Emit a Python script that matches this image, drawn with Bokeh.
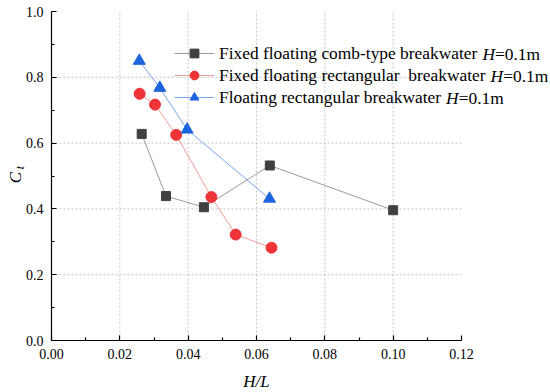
import math
from bokeh.plotting import figure
from bokeh.models import (FixedTicker, Legend, LegendItem, Label, Range1d,
                          LinearAxis)
from bokeh.embed import file_html
from bokeh.resources import INLINE

# ---- data ----
comb_x = [0.0264, 0.0335, 0.0446, 0.0639, 0.1000]
comb_y = [0.628, 0.439, 0.405, 0.532, 0.396]

fixrect_x = [0.0258, 0.0303, 0.0365, 0.0468, 0.0539, 0.0644]
fixrect_y = [0.750, 0.717, 0.625, 0.436, 0.322, 0.282]

floatrect_x = [0.0257, 0.0317, 0.0397, 0.0638]
floatrect_y = [0.850, 0.768, 0.641, 0.431]

x_ticks = [0.00, 0.02, 0.04, 0.06, 0.08, 0.10, 0.12]
x_tick_labels = ["0.00", "0.02", "0.04", "0.06", "0.08", "0.10", "0.12"]
x_minor = [0.01, 0.03, 0.05, 0.07, 0.09, 0.11]
y_ticks = [0.0, 0.2, 0.4, 0.6, 0.8, 1.0]
y_tick_labels = ["0.0", "0.2", "0.4", "0.6", "0.8", "1.0"]
y_minor = [0.1, 0.3, 0.5, 0.7, 0.9]

legend_main = ["Fixed floating comb-type breakwater",
               "Fixed floating rectangular  breakwater",
               "Floating rectangular breakwater"]
legend_var = "H"
legend_rest = "=0.1m"

FONT = "Liberation Serif"

# ---- layout: the frame covers the whole figure; axes sit at fixed spots ----
W_FIG, H_FIG = 548, 390
OFF = 1                  # page offset of the figure
XPX0, XPX1 = 52 - OFF, 462 - OFF                # frame px of x = 0 / 0.12
YPX0, YPX1 = H_FIG - (341 - OFF), H_FIG - (12 - OFF)  # px from bottom of y = 0 / 1
x0d, x1d = x_ticks[0], x_ticks[-1]
y0d, y1d = y_ticks[0], y_ticks[-1]
sx = (x1d - x0d) / (XPX1 - XPX0)
sy = (y1d - y0d) / (YPX1 - YPX0)

p = figure(width=W_FIG, height=H_FIG,
           min_border_left=0, min_border_right=0,
           min_border_top=0, min_border_bottom=0,
           x_range=Range1d(x0d - XPX0 * sx, x0d + (W_FIG - XPX0) * sx),
           y_range=Range1d(y0d - YPX0 * sy, y0d + (H_FIG - YPX0) * sy),
           x_axis_location=None, y_axis_location=None,
           output_backend="svg", toolbar_location=None)
p.outline_line_color = None
p.background_fill_color = "white"
p.border_fill_color = "white"
p.xgrid.visible = False
p.ygrid.visible = False

xaxis = LinearAxis(fixed_location=y0d, bounds=(x0d, x1d),
                   ticker=FixedTicker(ticks=x_ticks, minor_ticks=x_minor))
yaxis = LinearAxis(fixed_location=x0d, bounds=(y0d, y1d),
                   ticker=FixedTicker(ticks=y_ticks, minor_ticks=y_minor))
xaxis.major_label_overrides = dict(zip(x_ticks, x_tick_labels))
yaxis.major_label_overrides = dict(zip(y_ticks, y_tick_labels))
for ax in (xaxis, yaxis):
    ax.axis_line_color = "black"
    ax.axis_line_width = 1.2
    ax.major_tick_line_color = "black"
    ax.minor_tick_line_color = "black"
    ax.major_tick_line_width = 1.2
    ax.minor_tick_line_width = 1.2
    ax.major_tick_in = 5
    ax.major_tick_out = 0
    ax.minor_tick_in = 3
    ax.minor_tick_out = 0
    ax.major_label_text_font = FONT
    ax.major_label_text_font_size = "14px"
    ax.major_label_text_color = "black"
    ax.major_label_standoff = 8
xaxis.axis_label = "H/L"
xaxis.axis_label_text_font = FONT
xaxis.axis_label_text_font_style = "italic"
xaxis.axis_label_text_font_size = "17px"
xaxis.axis_label_text_color = "black"
xaxis.axis_label_standoff = 10

# dashed grid at the interior major ticks, limited to the axes box
gx = x_ticks[1:-1]
gy = y_ticks[1:-1]
p.segment(x0=gx, x1=gx, y0=[y0d] * len(gx), y1=[y1d] * len(gx),
          line_color="#c4c4c4", line_dash="2 2", line_width=1)
p.segment(x0=[x0d] * len(gy), x1=[x1d] * len(gy), y0=gy, y1=gy,
          line_color="#c4c4c4", line_dash="2 2", line_width=1)

p.add_layout(xaxis, "below")
p.add_layout(yaxis, "left")

# series
l1 = p.line(comb_x, comb_y, line_color="#9a9a9a", line_width=1)
s1 = p.scatter(comb_x, comb_y, marker="square", size=9,
               fill_color="#404040", line_color="#404040")
l2 = p.line(fixrect_x, fixrect_y, line_color="#f49a9a", line_width=1)
s2 = p.scatter(fixrect_x, fixrect_y, marker="circle", size=11,
               fill_color="#ee3438", line_color="#ee3438")
l3 = p.line(floatrect_x, floatrect_y, line_color="#78a4ee", line_width=1)
s3 = p.scatter(floatrect_x, floatrect_y, marker="triangle", size=12,
               fill_color="#1c64dc", line_color="#1c64dc")

# legend
FS = 17.4
FSS = "%.1fpx" % FS
GW, RH, STANDOFF = 40, 22, 5
LX = 175 - OFF
LTOP = H_FIG - (43 - OFF)
LY = LTOP - 3 * RH
legend = Legend(items=[LegendItem(label=legend_main[0], renderers=[l1, s1]),
                       LegendItem(label=legend_main[1], renderers=[l2, s2]),
                       LegendItem(label=legend_main[2], renderers=[l3, s3])],
                location=(LX, LY), padding=0, margin=0, spacing=0,
                glyph_width=GW, glyph_height=RH, label_height=RH,
                label_standoff=STANDOFF,
                border_line_color=None, background_fill_alpha=0,
                label_text_font=FONT, label_text_font_size=FSS,
                label_text_color="black")
p.add_layout(legend, "center")

# Times-compatible advance widths (per 1000 em) to place the italic "H"
W = {' ': 250, 'a': 444, 'b': 500, 'c': 444, 'd': 500, 'e': 444, 'f': 333,
     'g': 500, 'h': 500, 'i': 278, 'j': 278, 'k': 500, 'l': 278, 'm': 778,
     'n': 500, 'o': 500, 'p': 500, 'q': 500, 'r': 333, 's': 389, 't': 278,
     'u': 500, 'v': 500, 'w': 722, 'x': 500, 'y': 500, 'z': 444, 'F': 556,
     '-': 333}
for i, txt in enumerate(legend_main):
    w = sum(W.get(ch, 500) for ch in txt + " ") * FS / 1000.0
    xh = LX + GW + STANDOFF + w
    yc = LTOP - RH * (i + 0.5)
    p.add_layout(Label(x=xh, y=yc, x_units="screen", y_units="screen",
                       text=legend_var, text_font=FONT, text_font_style="italic",
                       text_font_size=FSS, text_baseline="middle",
                       text_align="left", text_color="black"))
    p.add_layout(Label(x=xh + 722 * FS / 1000.0, y=yc, x_units="screen",
                       y_units="screen", text=legend_rest, text_font=FONT,
                       text_font_size=FSS, text_baseline="middle",
                       text_align="left", text_color="black"))

# y-axis label C_t (italic with subscript)
CX, CY = 16 - OFF, H_FIG - (178 - OFF)
p.add_layout(Label(x=CX, y=CY, x_units="screen", y_units="screen",
                   text="C", text_font=FONT, text_font_style="italic",
                   text_font_size="17px", text_align="center",
                   text_baseline="middle", angle=math.pi / 2,
                   text_color="black"))
p.add_layout(Label(x=CX + 4, y=CY + 10, x_units="screen", y_units="screen",
                   text="t", text_font=FONT, text_font_style="italic",
                   text_font_size="12px", text_align="center",
                   text_baseline="middle", angle=math.pi / 2,
                   text_color="black"))

open("out.html", "w").write(file_html(p, INLINE))
